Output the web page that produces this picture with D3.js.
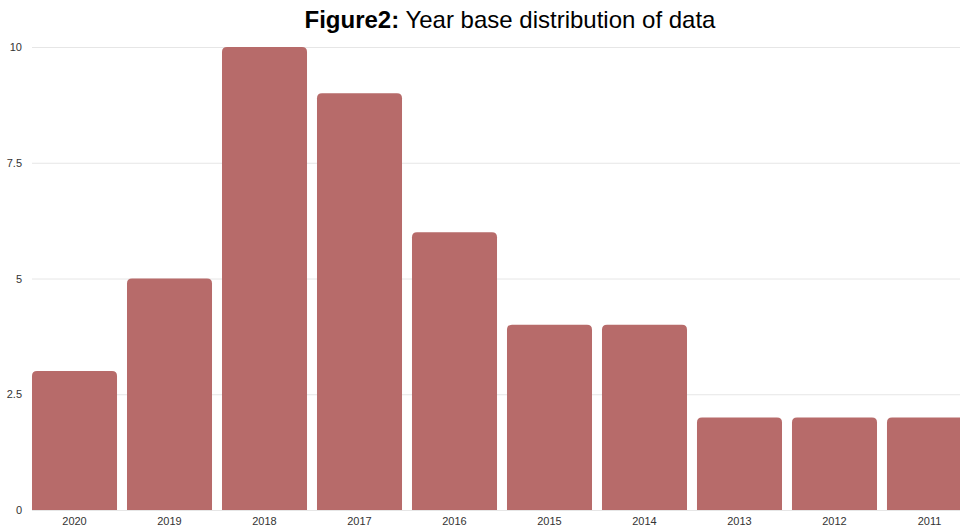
<!DOCTYPE html>
<html>
<head>
<meta charset="utf-8">
<script src="https://cdn.jsdelivr.net/npm/d3@7"></script>
<style>
  body { margin: 0; background: #fff; overflow: hidden; }
  svg { display: block; }
</style>
</head>
<body>
<svg id="chart" width="960" height="528"></svg>
<script>
// data
const years = ["2020", "2019", "2018", "2017", "2016", "2015", "2014", "2013", "2012", "2011"];
const counts = [3, 5, 10, 9, 6, 4, 4, 2, 2, 2];
const yTicks = [0, 2.5, 5, 7.5, 10];

const svg = d3.select("#chart");
const barColor = "#b76b6a";

let x = d3.scaleBand()
  .domain(years)
  .range([27, 977])
  .paddingInner(0.105)
  .paddingOuter(0.0526);

let y = d3.scaleLinear().domain([0, 10]).range([510, 47]);

// gridlines
svg.append("g")
  .selectAll("line")
  .data(yTicks)
  .enter().append("line")
    .attr("x1", 32)
    .attr("x2", 960)
    .attr("y1", d => y(d) + 0.5)
    .attr("y2", d => y(d) + 0.5)
    .attr("stroke", "#e6e6e6")
    .attr("stroke-width", 1);

// y labels
svg.append("g")
  .selectAll("text")
  .data(yTicks)
  .enter().append("text")
    .attr("x", 22)
    .attr("y", d => y(d) + 4)
    .attr("text-anchor", "end")
    .attr("font-family", "Liberation Sans, Arial, sans-serif")
    .attr("font-size", 11)
    .attr("fill", "#333")
    .text(d => d);

// bars with rounded tops
function barPath(x0, y0, w, h, r) {
  r = Math.min(r, h, w / 2);
  return `M${x0},${y0 + h}V${y0 + r}Q${x0},${y0} ${x0 + r},${y0}` +
         `H${x0 + w - r}Q${x0 + w},${y0} ${x0 + w},${y0 + r}V${y0 + h}Z`;
}

svg.append("g")
  .selectAll("path")
  .data(years)
  .enter().append("path")
    .attr("d", (d, i) => barPath(x(d), y(counts[i]), x.bandwidth(), y(0) - y(counts[i]), 5))
    .attr("fill", barColor);

// x labels
svg.append("g")
  .selectAll("text")
  .data(years)
  .enter().append("text")
    .attr("x", d => x(d) + x.bandwidth() / 2)
    .attr("y", 525)
    .attr("text-anchor", "middle")
    .attr("font-family", "Liberation Sans, Arial, sans-serif")
    .attr("font-size", 11)
    .attr("fill", "#333")
    .text(d => d);

// title
let title = svg.append("text")
  .attr("x", 510)
  .attr("y", 28)
  .attr("text-anchor", "middle")
  .attr("font-family", "Liberation Sans, Arial, sans-serif")
  .attr("font-size", 24)
  .attr("fill", "#000");
title.append("tspan").attr("font-weight", "bold").text("Figure2:");
title.append("tspan").text(" Year base distribution of data");
</script>
</body>
</html>
